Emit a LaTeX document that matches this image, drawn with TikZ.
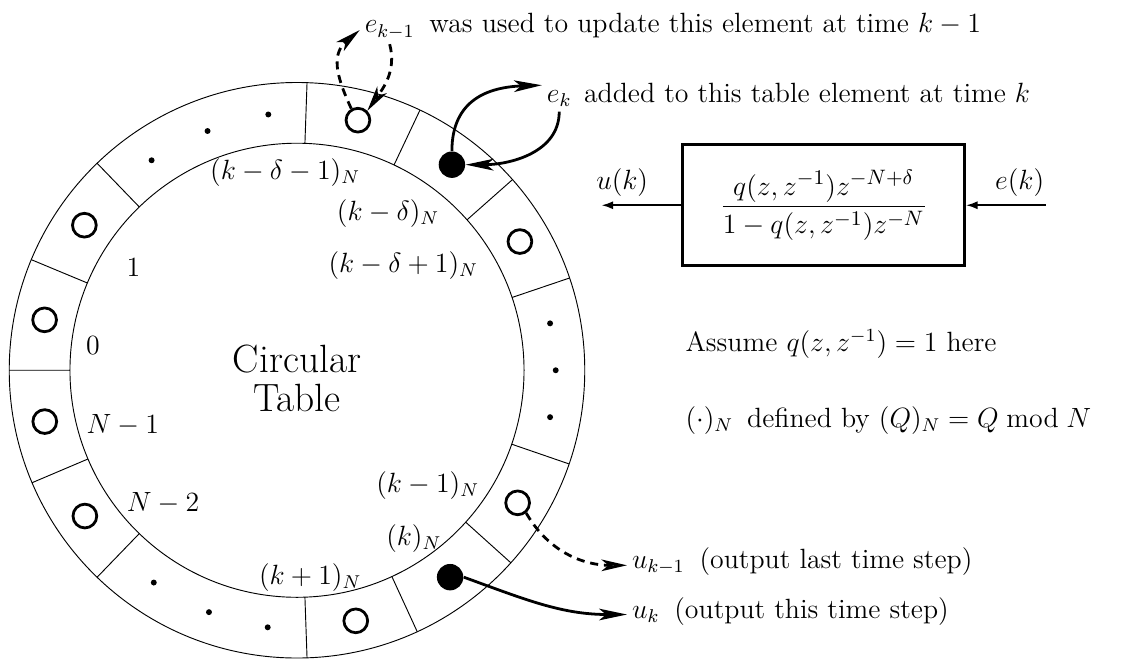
\documentclass[tikz,border=0pt]{standalone}
\usepackage{amsmath}
\usepackage{tikz}
\usetikzlibrary{arrows.meta, positioning}

\begin{document}
\begin{tikzpicture}[
    every node/.style={font=\large},
    ring/.style={thin},
    elem/.style={circle, draw, line width=1.2pt, minimum size=0.36cm, inner sep=0pt},
    elemfull/.style={circle, fill, minimum size=0.4cm, inner sep=0pt},
    idx/.style={inner sep=1pt},
    sym/.style={inner sep=2pt, anchor=base west},
    txt/.style={inner sep=0pt, anchor=base west},
    block/.style={rectangle, draw, line width=1.2pt, minimum width=4.27cm, minimum height=1.83cm, font=\fontsize{13}{16}\selectfont},
    flow/.style={-{Stealth[length=12pt, width=5pt, inset=3pt]}, line width=1.2pt},
    pastflow/.style={-{Stealth[open, length=11pt, width=5pt, inset=3pt]}, line width=1.2pt, dash pattern=on 3.5pt off 2.5pt},
    sig/.style={-{Latex[length=5pt, width=3.5pt]}, thick}
]
\useasboundingbox (-4.5,-4.41) rectangle (12.5,5.61);

% Ring of the table
\draw[ring] (0,0) circle (4.36);
\draw[ring] (0,0) circle (3.44);
\draw[ring] (88:3.44) -- (88:4.36)   (64.7:3.44) -- (64.7:4.36)   (41.5:3.44) -- (41.5:4.36)
            (18.7:3.44) -- (18.7:4.36) (-19:3.44) -- (-19:4.36)   (-42:3.44) -- (-42:4.36)
            (-65.3:3.44) -- (-65.3:4.36) (-88:3.44) -- (-88:4.36) (226:3.44) -- (226:4.36)
            (203:3.44) -- (203:4.36)   (180:3.44) -- (180:4.36)   (157.4:3.44) -- (157.4:4.36)
            (134:3.44) -- (134:4.36);

% Table elements
\node[elem] (eprev) at (76.3:3.9) {};
\node[elemfull] (ecur) at (53:3.9) {};
\node[elem] (ra) at (30:3.9) {};
\node[elem] (uprev) at (-31:3.9) {};
\node[elemfull] (ucur) at (-53.5:3.9) {};
\node[elem] (rb) at (-76.8:3.9) {};
\node[elem] (la) at (214.5:3.9) {};
\node[elem] (lb) at (191.5:3.9) {};
\node[elem] (lc) at (168.7:3.9) {};
\node[elem] (ld) at (145.7:3.9) {};

% Skipped elements
\fill (124.7:3.87) circle (0.045) (110.5:3.87) circle (0.045) (96.4:3.9) circle (0.045);
\fill (10.5:3.9) circle (0.045) (0:3.92) circle (0.045) (-10.5:3.9) circle (0.045);
\fill (236:3.88) circle (0.045) (250:3.9) circle (0.045) (263.5:3.92) circle (0.045);

% Indices
\node[idx] (ikdm) at (-0.18,3.0) {$(k-\delta-1)_N$};
\node[idx] (ikd) at (1.38,2.38) {$(k-\delta)_N$};
\node[idx] (ikdp) at (1.61,1.59) {$(k-\delta+1)_N$};
\node[idx] (ione) at (-2.48,1.56) {$1$};
\node[idx] (izero) at (-3.09,0.38) {$0$};
\node[idx] (inm) at (-2.64,-0.83) {$N-1$};
\node[idx] (inmm) at (-2.03,-2.02) {$N-2$};
\node[idx] (ikm) at (1.98,-1.74) {$(k-1)_N$};
\node[idx] (ik) at (1.77,-2.55) {$(k)_N$};
\node[idx] (ikp) at (0.2,-3.14) {$(k+1)_N$};
\node[align=center, font=\fontsize{17}{17}\selectfont] (title) at (0,-0.12) {Circular\\Table};

% Notes
\node[sym] (ekm) at (0.95,5.11) {$e_{k-1}$};
\node[txt] (ekmtxt) at ([xshift=4pt]ekm.base east) {was used to update this element at time $k-1$};
\node[sym] (ek) at (3.71,4.06) {$e_k$};
\node[txt] (ektxt) at ([xshift=3pt]ek.base east) {added to this table element at time $k$};
\node[sym] (ukm) at (5.0,-3.0) {$u_{k-1}$};
\node[txt] (ukmtxt) at ([xshift=4pt]ukm.base east) {(output last time step)};
\node[sym] (uk) at (5.0,-3.76) {$u_k$};
\node[txt] (uktxt) at ([xshift=4pt]uk.base east) {(output this time step)};
\node[txt] (assume) at (5.88,0.28) {Assume $q(z,z^{-1})=1$ here};
\node[txt] (modn) at (5.88,-0.86) {$(\cdot)_N$\enspace defined by $(Q)_N=Q \bmod N$};

% Reads and writes
\draw[pastflow] (eprev.120) to[out=115, in=220, looseness=1.2] (ekm.west);
\draw[pastflow] (ekm.south) to[out=-75, in=55] (eprev.north east);
\draw[flow] (ecur.north) to[out=90, in=182, looseness=1.2] (ek.north west);
\draw[flow] (ek.south) to[out=-90, in=0] (ecur.east);
\draw[pastflow] (uprev.-50) to[out=-60, in=180] (ukm.west);
\draw[flow] (ucur.east) to[out=-20, in=180] (uk.west);

% Filter block
\node[block] (filt) at (7.98,2.5) {$\displaystyle\frac{q(z,z^{-1})z^{-N+\delta}}{1-q(z,z^{-1})z^{-N}}$};
\coordinate[right=1.21cm of filt] (ein);
\coordinate[left=1.21cm of filt] (uout);
\draw[sig] (ein) -- (filt) node[pos=0, above left, xshift=3pt] (elab) {$e(k)$};
\draw[sig] (filt) -- (uout) node[pos=1, above right, xshift=-6pt] (ulab) {$u(k)$};

\end{tikzpicture}
\end{document}
